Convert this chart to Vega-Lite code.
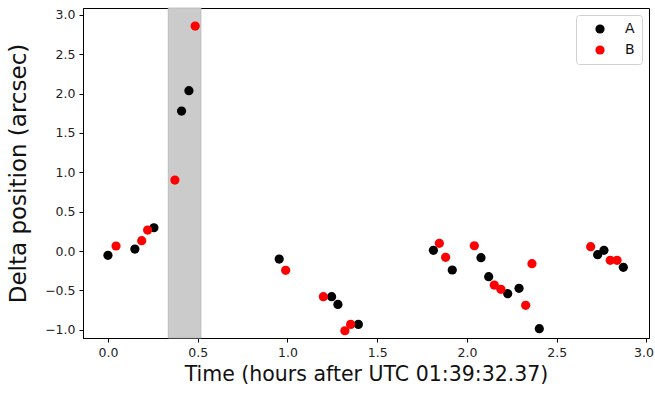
{
  "$schema": "https://vega.github.io/schema/vega-lite/v6.json",
  "autosize": {"type": "none"},
  "padding": {"left": 83, "top": 8, "right": 6, "bottom": 57},
  "width": 566,
  "height": 330,
  "config": {
    "font": "DejaVu Sans",
    "view": {"stroke": "#000000", "strokeWidth": 1},
    "axis": {
      "grid": false,
      "domainColor": "#000000",
      "tickColor": "#000000",
      "tickSize": 4,
      "labelColor": "#222222",
      "labelFontSize": 12.5,
      "labelPadding": 4,
      "titleFontWeight": "normal",
      "titleColor": "#111111"
    }
  },
  "datasets": {
    "span": [{"start": 0.336, "end": 0.518}],
    "pts": [
      {"time": 0.000, "delta": -0.055, "series": "A"},
      {"time": 0.150, "delta": 0.025, "series": "A"},
      {"time": 0.256, "delta": 0.296, "series": "A"},
      {"time": 0.410, "delta": 1.779, "series": "A"},
      {"time": 0.451, "delta": 2.037, "series": "A"},
      {"time": 0.954, "delta": -0.102, "series": "A"},
      {"time": 1.246, "delta": -0.580, "series": "A"},
      {"time": 1.281, "delta": -0.678, "series": "A"},
      {"time": 1.395, "delta": -0.932, "series": "A"},
      {"time": 1.813, "delta": 0.009, "series": "A"},
      {"time": 1.918, "delta": -0.241, "series": "A"},
      {"time": 2.078, "delta": -0.085, "series": "A"},
      {"time": 2.121, "delta": -0.326, "series": "A"},
      {"time": 2.227, "delta": -0.542, "series": "A"},
      {"time": 2.290, "delta": -0.474, "series": "A"},
      {"time": 2.403, "delta": -0.987, "series": "A"},
      {"time": 2.728, "delta": -0.047, "series": "A"},
      {"time": 2.763, "delta": 0.009, "series": "A"},
      {"time": 2.871, "delta": -0.207, "series": "A"},
      {"time": 0.045, "delta": 0.064, "series": "B"},
      {"time": 0.188, "delta": 0.131, "series": "B"},
      {"time": 0.221, "delta": 0.267, "series": "B"},
      {"time": 0.373, "delta": 0.902, "series": "B"},
      {"time": 0.486, "delta": 2.859, "series": "B"},
      {"time": 0.990, "delta": -0.245, "series": "B"},
      {"time": 1.200, "delta": -0.580, "series": "B"},
      {"time": 1.320, "delta": -1.013, "series": "B"},
      {"time": 1.352, "delta": -0.932, "series": "B"},
      {"time": 1.846, "delta": 0.098, "series": "B"},
      {"time": 1.881, "delta": -0.080, "series": "B"},
      {"time": 2.041, "delta": 0.067, "series": "B"},
      {"time": 2.152, "delta": -0.432, "series": "B"},
      {"time": 2.189, "delta": -0.487, "series": "B"},
      {"time": 2.327, "delta": -0.690, "series": "B"},
      {"time": 2.362, "delta": -0.161, "series": "B"},
      {"time": 2.689, "delta": 0.055, "series": "B"},
      {"time": 2.798, "delta": -0.118, "series": "B"},
      {"time": 2.836, "delta": -0.118, "series": "B"}
    ]
  },
  "layer": [
    {
      "data": {"name": "span"},
      "mark": {"type": "rect", "color": "#cbcbcb", "stroke": "#b5b5b5", "strokeWidth": 0.8},
      "encoding": {
        "x": {"field": "start", "type": "quantitative", "scale": {"domain": [-0.139, 3.014], "nice": false, "zero": false}},
        "x2": {"field": "end"}
      }
    },
    {
      "data": {"name": "pts"},
      "mark": {"type": "point", "shape": "circle", "filled": true, "size": 85, "opacity": 1},
      "encoding": {
        "x": {
          "field": "time", "type": "quantitative",
          "scale": {"domain": [-0.139, 3.014], "nice": false, "zero": false},
          "axis": {
            "values": [0, 0.5, 1, 1.5, 2, 2.5, 3], "format": ".1f",
            "labelOffset": {"condition": {"test": "datum.value == 3", "value": -3}, "value": 0},
            "title": "Time (hours after UTC 01:39:32.37)", "titleFontSize": 20.5, "titlePadding": 6
          }
        },
        "y": {
          "field": "delta", "type": "quantitative",
          "scale": {"domain": [-1.105, 3.088], "nice": false, "zero": false},
          "axis": {"values": [-1, -0.5, 0, 0.5, 1, 1.5, 2, 2.5, 3], "format": ".1f", "title": "Delta position (arcsec)", "titleFontSize": 23, "titlePadding": 14}
        },
        "color": {
          "field": "series", "type": "nominal",
          "scale": {"domain": ["A", "B"], "range": ["#000000", "#ff0000"]},
          "legend": {
            "title": null,
            "orient": "top-right",
            "offset": 7,
            "padding": 7,
            "fillColor": "#ffffff",
            "strokeColor": "#d0d0d0",
            "cornerRadius": 3,
            "symbolType": "circle",
            "symbolSize": 85,
            "symbolStrokeWidth": 0,
            "labelFontSize": 14,
            "labelColor": "#111111",
            "labelOffset": 18,
            "rowPadding": 7,
            "symbolOffset": 10
          }
        }
      }
    }
  ]
}
